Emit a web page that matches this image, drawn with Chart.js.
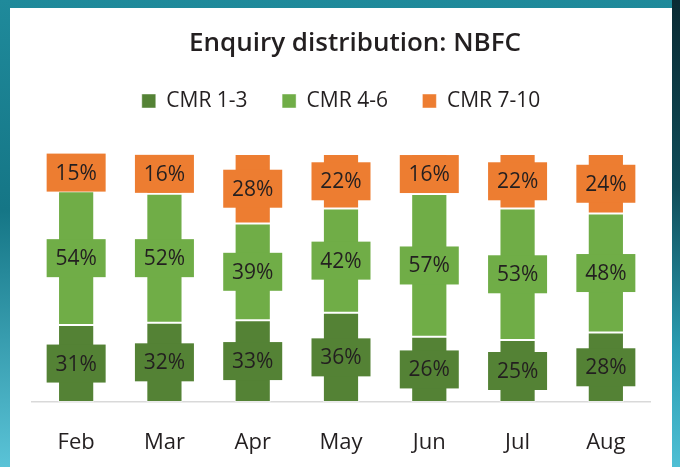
<!DOCTYPE html>
<html>
<head>
<meta charset="utf-8">
<script src="https://cdn.jsdelivr.net/npm/chart.js@4"></script>
<style>
html,body{margin:0;padding:0;}
body{width:680px;height:467px;overflow:hidden;position:relative;
 background:linear-gradient(180deg,#1f8a9b 0%,#157686 45%,#5ac3d7 100%);}
#edge{position:absolute;left:672px;top:0;width:8px;height:467px;
 background:linear-gradient(180deg,#0a2a33 0%,#0f4c58 40%,#2a9db2 75%,#4fbfd4 100%);}
#card{position:absolute;left:10px;top:8px;width:662px;height:459px;background:#fff;}
#chart{position:absolute;left:0;top:0;}
</style>
</head>
<body>
<div id="edge"></div>
<div id="card"></div>
<canvas id="chart" width="680" height="467"></canvas>
<script>
// values (percent of enquiries)
let months = ['Feb','Mar','Apr','May','Jun','Jul','Aug'];
let cmrLow = [31,32,33,36,26,25,28];
let cmrMid = [54,52,39,42,57,53,48];
let cmrHigh = [15,16,28,22,16,22,24];
let seriesNames = ['CMR 1-3','CMR 4-6','CMR 7-10'];
let seriesColors = ['#548235','#70ad47','#ed7d31'];

let allSeries = [cmrLow, cmrMid, cmrHigh];
// 100% stacked: scale every month to its own total
let totals = months.map(function(m,i){
    return cmrLow[i] + cmrMid[i] + cmrHigh[i];
});

let datasets = allSeries.map(function(vals,k){
    return {
        label: seriesNames[k],
        data: vals.map(function(v,i){ return v / totals[i] * 100; }),
        shown: vals,
        backgroundColor: seriesColors[k],
        borderColor: 'rgba(255,255,255,0.45)',
        borderWidth: 1,
        borderSkipped: false,
        barPercentage: 0.41,
        categoryPercentage: 1
    };
});

// boxed % labels drawn on top of every segment
const boxLabels = {
    id: 'boxLabels',
    afterLayout(chart){
        // title sits a bit right of the plot centre in the original
        chart.titleBlock.left += 28;
    },
    afterDatasetsDraw(chart){
        let ctx = chart.ctx;
        ctx.save();
        ctx.font = '21px "Open Sans"';
        ctx.textAlign = 'center';
        ctx.textBaseline = 'middle';
        chart.data.datasets.forEach(function(ds,i){
            let meta = chart.getDatasetMeta(i);
            meta.data.forEach(function(bar,j){
                let p = bar.getCenterPoint();
                ctx.fillStyle = ds.backgroundColor;
                ctx.fillRect(p.x - 29.5, p.y - 19, 59, 38);
                ctx.fillStyle = '#231f20';
                ctx.fillText(ds.shown[j] + '%', p.x, p.y + 1);
            });
        });
        ctx.restore();
    }
};

new Chart(document.getElementById('chart'), {
    type: 'bar',
    data: {labels: months, datasets: datasets},
    plugins: [boxLabels],
    options: {
        responsive: false,
        animation: false,
        layout: {padding: {left: 32, right: 30, top: 8, bottom: 0}},
        plugins: {
            title: {
                display: true,
                text: 'Enquiry distribution: NBFC',
                color: '#231f20',
                font: {family: 'Open Sans', size: 26, weight: '600'},
                padding: {top: 19.9, bottom: -3.1}
            },
            // empty block, only keeps space between legend and bars
            subtitle: {
                display: true,
                text: '',
                weight: 500,
                font: {size: 10},
                padding: {top: 0, bottom: 20.5}
            },
            legend: {
                position: 'top',
                labels: {
                    boxWidth: 14, boxHeight: 14, padding: 34.5,
                    color: '#231f20',
                    font: {family: 'Open Sans', size: 21}
                }
            },
            tooltip: {enabled: false}
        },
        scales: {
            x: {
                stacked: true,
                grid: {display: false, drawTicks: false},
                border: {display: true, color: '#d9d9d9', width: 1.5},
                ticks: {color: '#231f20', font: {family: 'Open Sans', size: 22}, padding: 28},
                afterFit: function(scale){ scale.height = 65; }
            },
            y: {stacked: true, display: false, min: 0, max: 100}
        }
    }
});
</script>
</body>
</html>
